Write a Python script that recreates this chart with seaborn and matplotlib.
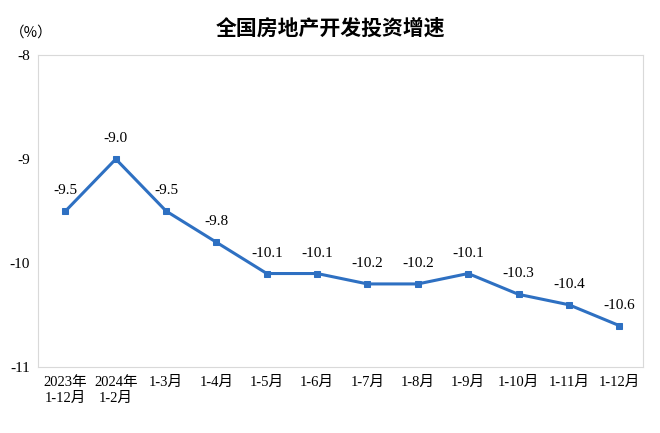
import matplotlib
matplotlib.use("Agg")
import matplotlib.pyplot as plt
import seaborn as sns
import pandas as pd

categories = ["2023年\n1-12月", "2024年\n1-2月", "1-3月", "1-4月", "1-5月", "1-6月",
              "1-7月", "1-8月", "1-9月", "1-10月", "1-11月", "1-12月"]
values = [-9.5, -9.0, -9.5, -9.8, -10.1, -10.1, -10.2, -10.2, -10.1, -10.3, -10.4, -10.6]
yticks = [-8, -9, -10, -11]

plt.rcParams["font.family"] = ["Liberation Serif", "Noto Sans CJK SC"]
df = pd.DataFrame({"x": range(len(values)), "v": values})

fig = plt.figure(figsize=(6.6, 4.33), dpi=100)
ax = fig.add_axes([0.058, 0.152, 0.916, 0.721])
color = "#2e70c2"
sns.lineplot(data=df, x="x", y="v", ax=ax, color=color, linewidth=2.2,
             marker="s", markersize=5, markeredgecolor=color)
for i, v in enumerate(values):
    ax.annotate(f"{v:.1f}", (i, v), xytext=(0, 10), textcoords="offset points",
                ha="center", va="bottom", fontsize=11)
ax.set_xlim(-0.54, 11.47)
ax.set_ylim(-11, -8)
ax.set_yticks(yticks)
ax.set_yticklabels([str(t) for t in yticks], fontsize=11)
ax.set_xticks(range(len(categories)))
ax.set_xticklabels(categories, fontsize=10.5, linespacing=1.3)
ax.tick_params(length=0, pad=6)
ax.set_xlabel("")
ax.set_ylabel("")
for s in ax.spines.values():
    s.set_color("#d9d9d9")
    s.set_linewidth(0.8)
fig.text(0.5, 0.935, "全国房地产开发投资增速", ha="center", va="center",
         fontsize=15, fontfamily="Noto Sans CJK SC", fontweight="bold")
fig.text(0.015, 0.925, "（%）", ha="left", va="center", fontsize=10.5,
         fontfamily="Noto Sans CJK SC")
fig.savefig("out.png", dpi=100)
